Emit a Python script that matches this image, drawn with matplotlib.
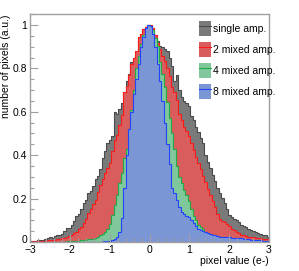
import numpy as np
import matplotlib
matplotlib.use("Agg")
import matplotlib.pyplot as plt
import matplotlib.transforms as mtransforms
from matplotlib.patches import Patch
from matplotlib.lines import Line2D
from matplotlib.ticker import MultipleLocator

plt.rcParams['font.family'] = ['Liberation Sans', 'DejaVu Sans']

x_min, x_max, n_bins = -3.0, 3.0, 100

single_amp = [
    0.004, 0.006, 0.005, 0.009, 0.011, 0.010, 0.015, 0.018, 0.022, 0.020,
    0.028, 0.030, 0.034, 0.038, 0.050, 0.066, 0.064, 0.080, 0.095, 0.118,
    0.130, 0.150, 0.180, 0.195, 0.228, 0.236, 0.260, 0.288, 0.305, 0.335,
    0.385, 0.420, 0.455, 0.470, 0.490, 0.600, 0.590, 0.615, 0.640, 0.690,
    0.740, 0.775, 0.830, 0.845, 0.860, 0.930, 0.955, 0.980, 0.990, 1.000,
    1.000, 0.985, 0.955, 0.925, 0.905, 0.900, 0.890, 0.880, 0.850, 0.810,
    0.740, 0.770, 0.700, 0.670, 0.650, 0.640, 0.625, 0.580, 0.560, 0.530,
    0.505, 0.480, 0.455, 0.400, 0.370, 0.340, 0.310, 0.280, 0.250, 0.225,
    0.205, 0.180, 0.150, 0.125, 0.115, 0.108, 0.100, 0.092, 0.080, 0.072,
    0.068, 0.060, 0.055, 0.050, 0.045, 0.040, 0.036, 0.033, 0.030, 0.025,
]

mixed_2 = [
    0.002, 0.003, 0.003, 0.004, 0.005, 0.005, 0.006, 0.008, 0.008, 0.010,
    0.011, 0.013, 0.015, 0.018, 0.020, 0.024, 0.028, 0.034, 0.040, 0.047,
    0.058, 0.070, 0.088, 0.105, 0.135, 0.150, 0.175, 0.195, 0.230, 0.262,
    0.290, 0.318, 0.340, 0.365, 0.420, 0.470, 0.495, 0.540, 0.585, 0.690,
    0.720, 0.770, 0.820, 0.850, 0.880, 0.945, 0.960, 0.980, 0.990, 0.998,
    1.000, 0.985, 0.955, 0.915, 0.890, 0.855, 0.835, 0.800, 0.765, 0.715,
    0.690, 0.655, 0.590, 0.560, 0.530, 0.510, 0.490, 0.455, 0.425, 0.390,
    0.365, 0.335, 0.305, 0.275, 0.245, 0.215, 0.190, 0.160, 0.130, 0.105,
    0.098, 0.090, 0.082, 0.075, 0.062, 0.054, 0.045, 0.040, 0.033, 0.030,
    0.027, 0.025, 0.022, 0.021, 0.019, 0.018, 0.017, 0.016, 0.015, 0.014,
]

mixed_4 = [
    0.001, 0.001, 0.001, 0.001, 0.001, 0.001, 0.001, 0.001, 0.001, 0.001,
    0.001, 0.001, 0.002, 0.002, 0.002, 0.003, 0.003, 0.004, 0.004, 0.005,
    0.006, 0.007, 0.008, 0.010, 0.012, 0.014, 0.016, 0.020, 0.024, 0.030,
    0.038, 0.048, 0.062, 0.085, 0.125, 0.170, 0.215, 0.270, 0.320, 0.385,
    0.430, 0.510, 0.610, 0.700, 0.800, 0.855, 0.910, 0.955, 0.985, 1.000,
    0.995, 0.975, 0.940, 0.905, 0.830, 0.775, 0.715, 0.645, 0.570, 0.500,
    0.430, 0.350, 0.300, 0.270, 0.240, 0.215, 0.190, 0.150, 0.120, 0.100,
    0.080, 0.070, 0.058, 0.047, 0.040, 0.034, 0.028, 0.024, 0.020, 0.018,
    0.016, 0.015, 0.014, 0.013, 0.012, 0.011, 0.010, 0.009, 0.009, 0.008,
    0.007, 0.007, 0.006, 0.006, 0.005, 0.005, 0.004, 0.004, 0.004, 0.003,
]

mixed_8 = [
    0.001, 0.001, 0.001, 0.001, 0.001, 0.001, 0.001, 0.001, 0.001, 0.001,
    0.001, 0.001, 0.001, 0.001, 0.001, 0.001, 0.001, 0.001, 0.001, 0.001,
    0.001, 0.001, 0.001, 0.001, 0.001, 0.001, 0.001, 0.001, 0.002, 0.002,
    0.003, 0.004, 0.005, 0.006, 0.010, 0.015, 0.022, 0.045, 0.110, 0.250,
    0.400, 0.520, 0.600, 0.680, 0.750, 0.820, 0.900, 0.945, 0.985, 1.000,
    0.995, 0.960, 0.900, 0.820, 0.740, 0.650, 0.550, 0.450, 0.360, 0.250,
    0.225, 0.195, 0.160, 0.140, 0.130, 0.122, 0.115, 0.100, 0.088, 0.075,
    0.062, 0.055, 0.050, 0.044, 0.040, 0.036, 0.033, 0.030, 0.027, 0.025,
    0.025, 0.024, 0.024, 0.022, 0.020, 0.019, 0.018, 0.017, 0.017, 0.015,
    0.013, 0.012, 0.011, 0.010, 0.009, 0.008, 0.007, 0.006, 0.005, 0.005,
]

labels = ["single amp.", "2 mixed amp.", "4 mixed amp.", "8 mixed amp."]
series = [single_amp, mixed_2, mixed_4, mixed_8]
fill_colors = ["#7a7a7a", "#d95d5d", "#80c79c", "#7b96d4"]
line_colors = ["#4a4a4a", "#ff1a1a", "#22aa44", "#2244ff"]

edges = np.linspace(x_min, x_max, n_bins + 1)

fig = plt.figure(figsize=(2.99, 2.71), dpi=100)
ax = fig.add_axes([0.1003, 0.107, 0.7994, 0.841])

for vals, fc, lc in zip(series, fill_colors, line_colors):
    ax.stairs(vals, edges, fill=True, color=fc, linewidth=0)
    ax.stairs(vals, edges, fill=False, color=lc, linewidth=0.8)

ax.set_xlim(x_min, x_max)
ax.set_ylim(0, 1.05)

frame_col = "#a0a0a0"
for sp in ax.spines.values():
    sp.set_color(frame_col)
    sp.set_linewidth(1.0)

ax.xaxis.set_major_locator(MultipleLocator(1))
ax.xaxis.set_minor_locator(MultipleLocator(0.2))
ax.yaxis.set_minor_locator(MultipleLocator(0.05))
ax.tick_params(which='both', direction='in', color=frame_col, labelsize=7.5,
               labelcolor='black')
ax.tick_params(axis='y', pad=2)
ax.tick_params(axis='x', pad=2)
ax.tick_params(which='major', length=6, width=0.8)
ax.tick_params(which='minor', length=3, width=0.8)
ax.set_yticks([0, 0.2, 0.4, 0.6, 0.8, 1.0])
ax.set_yticklabels(["0", "0.2", "0.4", "0.6", "0.8", "1"])
ax.set_xticks([-3, -2, -1, 0, 1, 2, 3])
ax.set_xticklabels(["\u22123", "\u22122", "\u22121", "0", "1", "2", "3"])

# nudge the y "0" label up slightly so it does not collide with "-3"
zero_lbl = ax.get_yticklabels()[0]
zero_lbl.set_transform(zero_lbl.get_transform() +
                       mtransforms.ScaledTranslation(0, 3 / 100, fig.dpi_scale_trans))

ax.set_ylabel("number of pixels (a.u.)", fontsize=7.5, ha='right')
ax.yaxis.set_label_coords(-0.078, 1.0)
ax.set_xlabel("pixel value (e-)", fontsize=7.5, ha='right')
ax.xaxis.set_label_coords(1.0, -0.06)

handles = [(Patch(facecolor=fc, edgecolor='none'),
            Line2D([], [], color=lc, linewidth=0.8))
           for fc, lc in zip(fill_colors, line_colors)]
leg = ax.legend(handles, labels, loc='upper left',
                bbox_to_anchor=(0.69, 0.99), frameon=False, fontsize=7.5,
                handlelength=1.1, handleheight=1.9, handletextpad=0.2,
                labelspacing=0.55, borderaxespad=0.0)

fig.savefig("out.png", dpi=100)
